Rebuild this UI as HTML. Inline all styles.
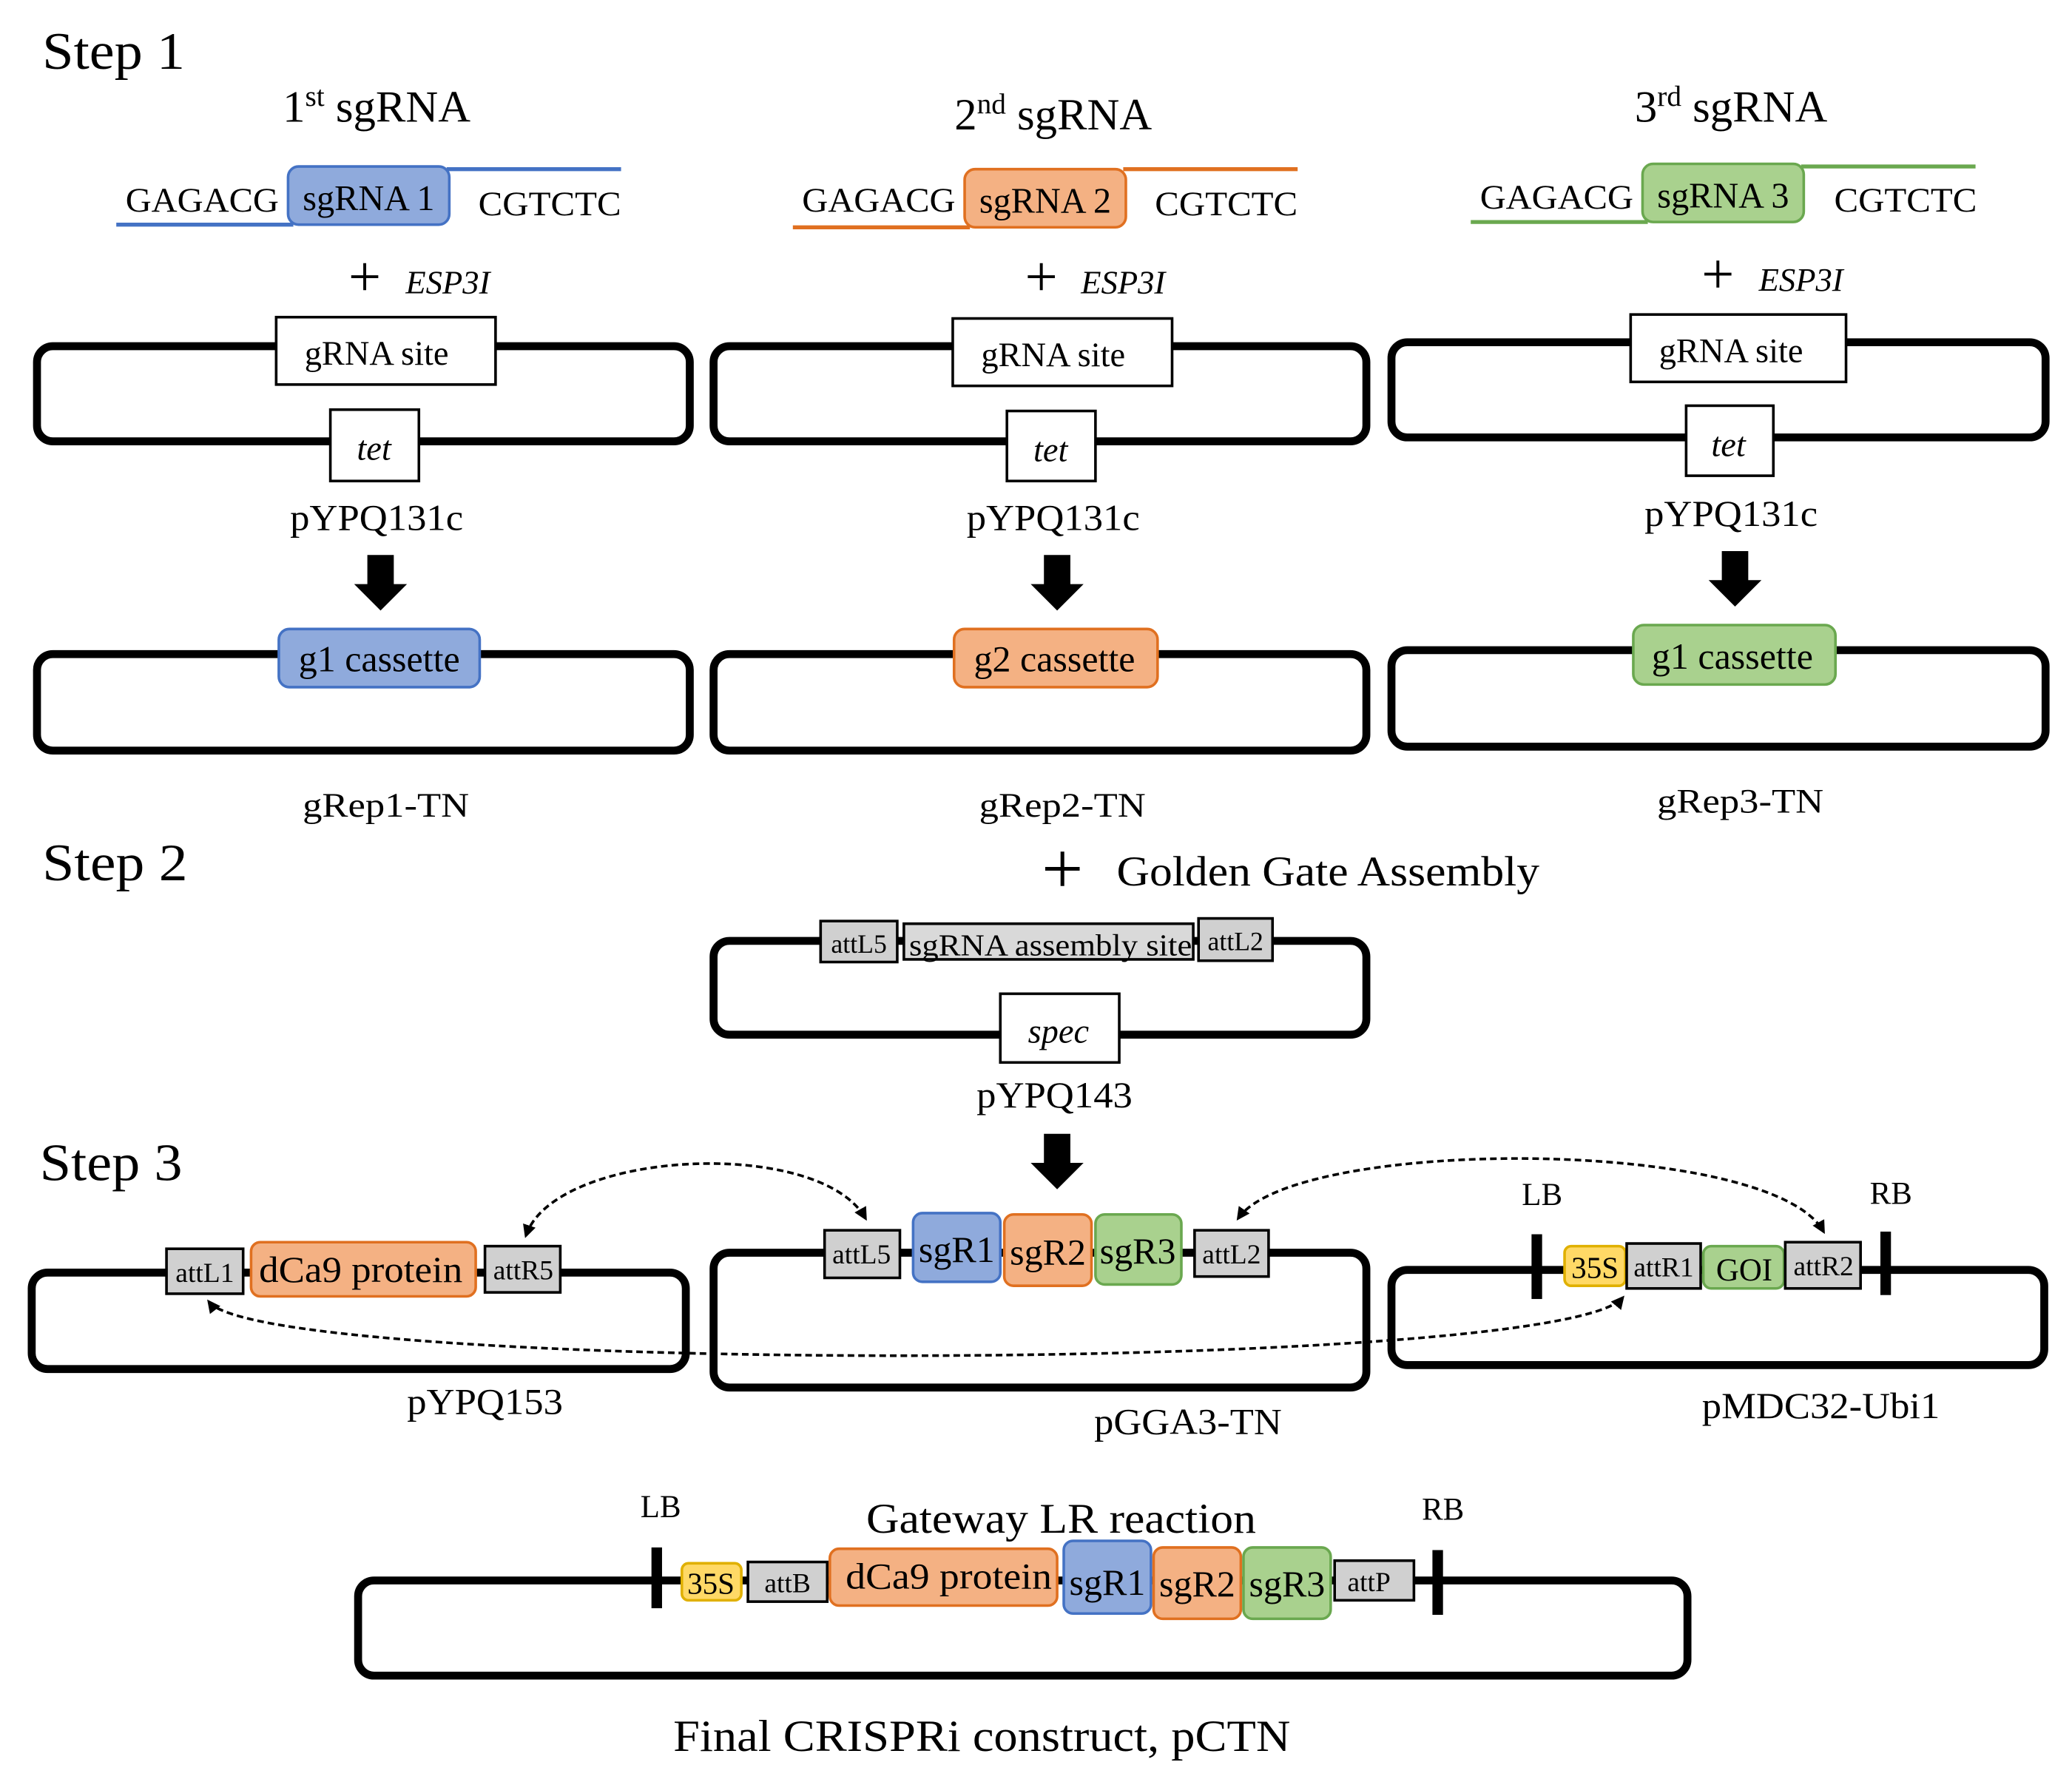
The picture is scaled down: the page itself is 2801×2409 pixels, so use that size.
<!DOCTYPE html>
<html><head><meta charset="utf-8"><style>
html,body{margin:0;padding:0;background:#fff;}
svg{display:block;}
text{font-family:"Liberation Serif",serif;fill:#000;}
</style></head><body>
<svg width="2801" height="2409" viewBox="0 0 1568 1348.5" preserveAspectRatio="none" xmlns="http://www.w3.org/2000/svg">
<defs>
<marker id="ah" markerWidth="10" markerHeight="10" refX="8" refY="5" orient="auto" markerUnits="userSpaceOnUse"><path d="M0,0 L10,5 L0,10 Z" fill="#000"/></marker>
<marker id="ahs" markerWidth="10" markerHeight="10" refX="2" refY="5" orient="auto" markerUnits="userSpaceOnUse"><path d="M10,0 L0,5 L10,10 Z" fill="#000"/></marker>
</defs>
<g font-size="40"><text x="32" y="52" textLength="108" lengthAdjust="spacingAndGlyphs">Step 1</text><text x="32" y="666" textLength="110" lengthAdjust="spacingAndGlyphs">Step 2</text><text x="30" y="893" textLength="108" lengthAdjust="spacingAndGlyphs">Step 3</text></g>

<!-- Column 1 -->
<text x="285" y="92" font-size="34" text-anchor="middle">1<tspan font-size="22" dy="-12">st</tspan><tspan dy="12"> sgRNA</tspan></text>
<line x1="88" y1="170" x2="222" y2="170" stroke="#4472c4" stroke-width="3"/>
<line x1="338" y1="128" x2="470" y2="128" stroke="#4472c4" stroke-width="3"/>
<rect x="218" y="126" width="122" height="44" rx="8" fill="#8faadc" stroke="#4472c4" stroke-width="2"/>
<text x="279" y="159" font-size="27" text-anchor="middle">sgRNA 1</text>
<text x="95" y="160" font-size="26" textLength="116" lengthAdjust="spacingAndGlyphs">GAGACG</text><text x="362" y="163" font-size="26" textLength="108" lengthAdjust="spacingAndGlyphs">CGTCTC</text>
<text x="276" y="224" font-size="44" text-anchor="middle">+</text><text x="307" y="222" font-size="25" font-style="italic">ESP3I</text>
<rect x="28" y="262" width="494" height="72" rx="12" fill="none" stroke="#000" stroke-width="6"/>
<rect x="209" y="240" width="166" height="51" fill="#fff" stroke="#000" stroke-width="2"/><text x="285" y="276" font-size="26" text-anchor="middle">gRNA site</text>
<rect x="250" y="310" width="67" height="54" fill="#fff" stroke="#000" stroke-width="2"/><text x="283" y="348" font-size="26" font-style="italic" text-anchor="middle">tet</text>
<text x="285" y="401" font-size="28" text-anchor="middle" textLength="131" lengthAdjust="spacingAndGlyphs">pYPQ131c</text>
<path d="M278,420 h20 v22 h10 l-20,20 l-20,-20 h10 z" fill="#000"/>
<rect x="28" y="495" width="494" height="73" rx="12" fill="none" stroke="#000" stroke-width="6"/>
<rect x="211" y="476" width="152" height="44" rx="8" fill="#8faadc" stroke="#4472c4" stroke-width="2"/><text x="287" y="508" font-size="28" text-anchor="middle">g1 cassette</text>
<text x="292" y="618" font-size="26" text-anchor="middle" textLength="126" lengthAdjust="spacingAndGlyphs">gRep1-TN</text>

<!-- Column 2 -->
<text x="797" y="98" font-size="34" text-anchor="middle">2<tspan font-size="22" dy="-12">nd</tspan><tspan dy="12"> sgRNA</tspan></text>
<line x1="600" y1="172" x2="734" y2="172" stroke="#e07020" stroke-width="3"/>
<line x1="850" y1="128" x2="982" y2="128" stroke="#e07020" stroke-width="3"/>
<rect x="730" y="128" width="122" height="44" rx="8" fill="#f4b183" stroke="#e07020" stroke-width="2"/>
<text x="791" y="161" font-size="27" text-anchor="middle">sgRNA 2</text>
<text x="607" y="160" font-size="26" textLength="116" lengthAdjust="spacingAndGlyphs">GAGACG</text><text x="874" y="163" font-size="26" textLength="108" lengthAdjust="spacingAndGlyphs">CGTCTC</text>
<text x="788" y="224" font-size="44" text-anchor="middle">+</text><text x="818" y="222" font-size="25" font-style="italic">ESP3I</text>
<rect x="540" y="262" width="494" height="72" rx="12" fill="none" stroke="#000" stroke-width="6"/>
<rect x="721" y="241" width="166" height="51" fill="#fff" stroke="#000" stroke-width="2"/><text x="797" y="277" font-size="26" text-anchor="middle">gRNA site</text>
<rect x="762" y="311" width="67" height="53" fill="#fff" stroke="#000" stroke-width="2"/><text x="795" y="349" font-size="26" font-style="italic" text-anchor="middle">tet</text>
<text x="797" y="401" font-size="28" text-anchor="middle" textLength="131" lengthAdjust="spacingAndGlyphs">pYPQ131c</text>
<path d="M790,420 h20 v22 h10 l-20,20 l-20,-20 h10 z" fill="#000"/>
<rect x="540" y="495" width="494" height="73" rx="12" fill="none" stroke="#000" stroke-width="6"/>
<rect x="722" y="476" width="154" height="44" rx="8" fill="#f4b183" stroke="#e07020" stroke-width="2"/><text x="798" y="508" font-size="28" text-anchor="middle">g2 cassette</text>
<text x="804" y="618" font-size="26" text-anchor="middle" textLength="126" lengthAdjust="spacingAndGlyphs">gRep2-TN</text>

<!-- Column 3 -->
<text x="1310" y="92" font-size="34" text-anchor="middle">3<tspan font-size="22" dy="-12">rd</tspan><tspan dy="12"> sgRNA</tspan></text>
<line x1="1113" y1="168" x2="1247" y2="168" stroke="#6aa84f" stroke-width="3"/>
<line x1="1363" y1="126" x2="1495" y2="126" stroke="#6aa84f" stroke-width="3"/>
<rect x="1243" y="124" width="122" height="44" rx="8" fill="#a9d18e" stroke="#6aa84f" stroke-width="2"/>
<text x="1304" y="157" font-size="27" text-anchor="middle">sgRNA 3</text>
<text x="1120" y="158" font-size="26" textLength="116" lengthAdjust="spacingAndGlyphs">GAGACG</text><text x="1388" y="160" font-size="26" textLength="108" lengthAdjust="spacingAndGlyphs">CGTCTC</text>
<text x="1300" y="222" font-size="44" text-anchor="middle">+</text><text x="1331" y="220" font-size="25" font-style="italic">ESP3I</text>
<rect x="1053" y="259" width="495" height="72" rx="12" fill="none" stroke="#000" stroke-width="6"/>
<rect x="1234" y="238" width="163" height="51" fill="#fff" stroke="#000" stroke-width="2"/><text x="1310" y="274" font-size="26" text-anchor="middle">gRNA site</text>
<rect x="1276" y="307" width="66" height="53" fill="#fff" stroke="#000" stroke-width="2"/><text x="1308" y="345" font-size="26" font-style="italic" text-anchor="middle">tet</text>
<text x="1310" y="398" font-size="28" text-anchor="middle" textLength="131" lengthAdjust="spacingAndGlyphs">pYPQ131c</text>
<path d="M1303,417 h20 v22 h10 l-20,20 l-20,-20 h10 z" fill="#000"/>
<rect x="1053" y="492" width="495" height="73" rx="12" fill="none" stroke="#000" stroke-width="6"/>
<rect x="1236" y="473" width="153" height="45" rx="8" fill="#a9d18e" stroke="#6aa84f" stroke-width="2"/><text x="1311" y="506" font-size="28" text-anchor="middle">g1 cassette</text>
<text x="1317" y="615" font-size="26" text-anchor="middle" textLength="126" lengthAdjust="spacingAndGlyphs">gRep3-TN</text>

<!-- Step 2 -->
<text x="804" y="676" font-size="56" text-anchor="middle">+</text>
<text x="845" y="670" font-size="32" textLength="320" lengthAdjust="spacingAndGlyphs">Golden Gate Assembly</text>
<rect x="540" y="712" width="494" height="71" rx="12" fill="none" stroke="#000" stroke-width="6"/>
<rect x="621" y="697" width="58" height="31" fill="#d0d0d0" stroke="#000" stroke-width="2"/><text x="650" y="721" font-size="20" text-anchor="middle">attL5</text>
<rect x="684" y="699" width="219" height="27" fill="#d9d9d9" stroke="#000" stroke-width="2"/><text x="688" y="723" font-size="23" textLength="214" lengthAdjust="spacingAndGlyphs">sgRNA assembly site</text>
<rect x="907" y="695" width="56" height="32" fill="#d0d0d0" stroke="#000" stroke-width="2"/><text x="935" y="719" font-size="20" text-anchor="middle">attL2</text>
<rect x="757" y="752" width="90" height="52" fill="#fff" stroke="#000" stroke-width="2"/><text x="801" y="789" font-size="26" font-style="italic" text-anchor="middle">spec</text>
<text x="798" y="838" font-size="28" text-anchor="middle" textLength="118" lengthAdjust="spacingAndGlyphs">pYPQ143</text>
<path d="M790,858 h20 v22 h10 l-20,20 l-20,-20 h10 z" fill="#000"/>

<!-- Step 3 -->
<rect x="24" y="963" width="495" height="73" rx="12" fill="none" stroke="#000" stroke-width="6"/>
<rect x="126" y="945" width="58" height="34" fill="#d0d0d0" stroke="#000" stroke-width="2"/><text x="155" y="970" font-size="21" text-anchor="middle">attL1</text>
<rect x="190" y="940" width="170" height="41" rx="7" fill="#f4b183" stroke="#e07020" stroke-width="2"/><text x="273" y="970" font-size="28" text-anchor="middle" textLength="154" lengthAdjust="spacingAndGlyphs">dCa9 protein</text>
<rect x="367" y="943" width="57" height="35" fill="#d0d0d0" stroke="#000" stroke-width="2"/><text x="396" y="968" font-size="21" text-anchor="middle">attR5</text>
<text x="367" y="1070" font-size="28" text-anchor="middle" textLength="118" lengthAdjust="spacingAndGlyphs">pYPQ153</text>

<rect x="540" y="948" width="494" height="102" rx="12" fill="none" stroke="#000" stroke-width="6"/>
<rect x="624" y="931" width="57" height="36" fill="#d0d0d0" stroke="#000" stroke-width="2"/><text x="652" y="956" font-size="21" text-anchor="middle">attL5</text>
<rect x="691" y="918" width="66" height="52" rx="7" fill="#8faadc" stroke="#4472c4" stroke-width="2"/><text x="724" y="955" font-size="28" text-anchor="middle">sgR1</text>
<rect x="760" y="919" width="66" height="54" rx="7" fill="#f4b183" stroke="#e07020" stroke-width="2"/><text x="793" y="957" font-size="28" text-anchor="middle">sgR2</text>
<rect x="829" y="919" width="65" height="53" rx="7" fill="#a9d18e" stroke="#6aa84f" stroke-width="2"/><text x="861" y="956" font-size="28" text-anchor="middle">sgR3</text>
<rect x="904" y="931" width="56" height="35" fill="#d0d0d0" stroke="#000" stroke-width="2"/><text x="932" y="956" font-size="21" text-anchor="middle">attL2</text>
<text x="899" y="1085" font-size="28" text-anchor="middle" textLength="142" lengthAdjust="spacingAndGlyphs">pGGA3-TN</text>

<rect x="1053" y="961" width="494" height="72" rx="12" fill="none" stroke="#000" stroke-width="6"/>
<rect x="1159" y="934" width="8" height="49" fill="#000"/><rect x="1423" y="932" width="8" height="48" fill="#000"/>
<rect x="1184" y="943" width="46" height="30" rx="5" fill="#ffd966" stroke="#e0b000" stroke-width="2"/><text x="1207" y="967" font-size="23" text-anchor="middle">35S</text>
<rect x="1231" y="941" width="56" height="34" fill="#d0d0d0" stroke="#000" stroke-width="2"/><text x="1259" y="966" font-size="21" text-anchor="middle">attR1</text>
<rect x="1289" y="943" width="61" height="32" rx="6" fill="#a9d18e" stroke="#6aa84f" stroke-width="2"/><text x="1320" y="969" font-size="24" text-anchor="middle">GOI</text>
<rect x="1351" y="940" width="57" height="35" fill="#d0d0d0" stroke="#000" stroke-width="2"/><text x="1380" y="965" font-size="21" text-anchor="middle">attR2</text>
<text x="1167" y="912" font-size="24" text-anchor="middle">LB</text><text x="1431" y="911" font-size="24" text-anchor="middle">RB</text>
<text x="1378" y="1073" font-size="28" text-anchor="middle" textLength="180" lengthAdjust="spacingAndGlyphs">pMDC32-Ubi1</text>

<g fill="none" stroke="#000" stroke-width="2" stroke-dasharray="5,3">
<path d="M398,935 C420,870 620,860 655,922" marker-start="url(#ahs)" marker-end="url(#ah)"/>
<path d="M937,922 C980,860 1340,860 1380,932" marker-start="url(#ahs)" marker-end="url(#ah)"/>
<path d="M158,985 C200,1040 1180,1040 1228,982" marker-start="url(#ahs)" marker-end="url(#ah)"/>
</g>

<!-- Final -->
<text x="803" y="1160" font-size="32" text-anchor="middle" textLength="295" lengthAdjust="spacingAndGlyphs">Gateway LR reaction</text>
<rect x="271" y="1196" width="1006" height="72" rx="12" fill="none" stroke="#000" stroke-width="6"/>
<rect x="493" y="1171" width="8" height="46" fill="#000"/><rect x="1084" y="1173" width="8" height="49" fill="#000"/>
<rect x="516" y="1183" width="45" height="28" rx="5" fill="#ffd966" stroke="#e0b000" stroke-width="2"/><text x="538" y="1206" font-size="23" text-anchor="middle">35S</text>
<rect x="566" y="1182" width="60" height="30" fill="#d0d0d0" stroke="#000" stroke-width="2"/><text x="596" y="1205" font-size="21" text-anchor="middle">attB</text>
<rect x="628" y="1172" width="172" height="43" rx="7" fill="#f4b183" stroke="#e07020" stroke-width="2"/><text x="718" y="1202" font-size="28" text-anchor="middle" textLength="156" lengthAdjust="spacingAndGlyphs">dCa9 protein</text>
<rect x="805" y="1166" width="66" height="55" rx="7" fill="#8faadc" stroke="#4472c4" stroke-width="2"/><text x="838" y="1207" font-size="28" text-anchor="middle">sgR1</text>
<rect x="873" y="1171" width="66" height="54" rx="7" fill="#f4b183" stroke="#e07020" stroke-width="2"/><text x="906" y="1208" font-size="28" text-anchor="middle">sgR2</text>
<rect x="941" y="1171" width="66" height="54" rx="7" fill="#a9d18e" stroke="#6aa84f" stroke-width="2"/><text x="974" y="1208" font-size="28" text-anchor="middle">sgR3</text>
<rect x="1010" y="1181" width="60" height="30" fill="#d0d0d0" stroke="#000" stroke-width="2"/><text x="1036" y="1204" font-size="21" text-anchor="middle">attP</text>
<text x="500" y="1148" font-size="24" text-anchor="middle">LB</text><text x="1092" y="1150" font-size="24" text-anchor="middle">RB</text>
<text x="743" y="1325" font-size="34" text-anchor="middle" textLength="467" lengthAdjust="spacingAndGlyphs">Final CRISPRi construct, pCTN</text>
</svg>
</body></html>
